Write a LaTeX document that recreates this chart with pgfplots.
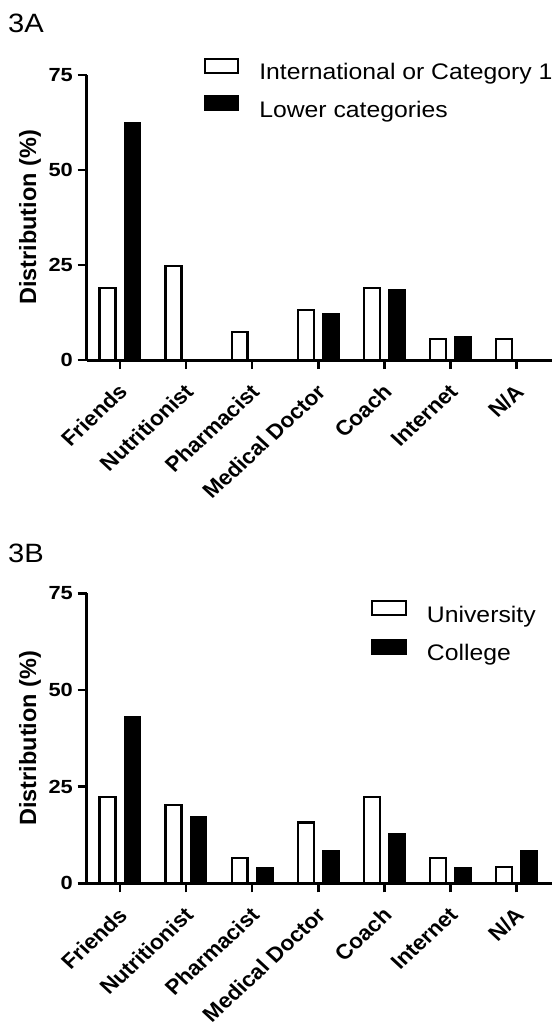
\documentclass[border=0pt]{standalone}
\usepackage{pgfplots}
\pgfplotsset{compat=1.18}
\usepackage{fontspec}
\setmainfont{Liberation Sans}
\newcommand{\hs}[1]{\scalebox{1.1}[1]{#1}}
\pgfplotsset{
  panel/.style={
    scale only axis,
    axis x line=bottom, axis y line=left,
    axis line style={line width=3bp, -},
    every tick/.style={line width=2.5bp, black},
    major tick length=9bp,
    tick align=outside,
    ymin=0, ymax=75, ytick={0,25,50,75},
    xmin=-0.504, xmax=6.534,
    xtick={0,...,6},
    xticklabels={Friends,Nutritionist,Pharmacist,Medical Doctor,Coach,Internet,N/A},
    /pgf/number format/assume math mode=true,
    yticklabel style={font=\fontsize{19bp}{22bp}\selectfont\bfseries, xscale=1.15, anchor=east, inner sep=0pt, xshift=-4bp},
    xticklabel style={font=\fontsize{21bp}{24bp}\selectfont\bfseries, xshift=3bp, yshift=-19bp, xscale=1.08, rotate=45, anchor=east, inner sep=0pt},
    ylabel={Distribution (\%)},
    ylabel style={font=\fontsize{23.5bp}{26bp}\selectfont\bfseries, at={(axis description cs:-0.098,0.5)}, anchor=south, rotate=0, inner sep=0pt},
    legend style={draw=none, fill=none, font=\fontsize{22.5bp}{26bp}\selectfont, anchor=north west, column sep=0pt, inner sep=0pt, nodes={inner sep=0pt, text height=17bp, text depth=5bp}},
    legend cell align=left,
    clip=false,
  },
  wbar/.style={ybar, bar width=0.24, bar shift=-0.19, draw=black, fill=white, line width=2.3bp,
    legend image code/.code={\draw[black, fill=white, line width=2.3bp] (1bp,1bp) rectangle (34.5bp,15bp); \path (54.5bp,0bp);}},
  kbar/.style={ybar, bar width=0.25, bar shift=0.19, draw=black, fill=black, line width=1bp,
    legend image code/.code={\draw[black, fill=black, line width=2bp] (1bp,1bp) rectangle (34.5bp,15bp); \path (54.5bp,0bp);}},
}
\begin{document}
\begin{tikzpicture}
\path[use as bounding box] (0,0) rectangle (552bp,-1026bp);
\node[anchor=base west, inner sep=0pt, font=\fontsize{26.5bp}{30bp}\selectfont] at (8bp,-32.3bp) {\hs{3A}};
\node[anchor=base west, inner sep=0pt, font=\fontsize{26.5bp}{30bp}\selectfont] at (8bp,-562bp) {\hs{3B}};
\begin{axis}[panel, at={(86.7bp,-360bp)}, anchor=south west, width=465.3bp, height=285bp,
  legend style={at={(0.2506,1.0621)}, row sep=10.5bp}]
\addplot[wbar] coordinates {(0,19.0) (1,24.8) (2,7.4) (3,13.2) (4,19.0) (5,5.5) (6,5.5)};
\addlegendentry{\hs{International or Category 1}}
\addplot[kbar] coordinates {(0,62.4) (1,0) (2,0) (3,12.3) (4,18.6) (5,6.2) (6,0)};
\addlegendentry{\hs{Lower categories}}
\end{axis}
\begin{axis}[panel, at={(86.7bp,-883.3bp)}, anchor=south west, width=465.3bp, height=290bp,
  legend style={at={(0.611,0.977)}, row sep=11.5bp}]
\addplot[wbar] coordinates {(0,22.3) (1,20.2) (2,6.5) (3,15.7) (4,22.3) (5,6.5) (6,4.2)};
\addlegendentry{\hs{University}}
\addplot[kbar] coordinates {(0,43.1) (1,17.3) (2,4.2) (3,8.6) (4,13.0) (5,4.2) (6,8.6)};
\addlegendentry{\hs{College}}
\end{axis}
\end{tikzpicture}
\end{document}
